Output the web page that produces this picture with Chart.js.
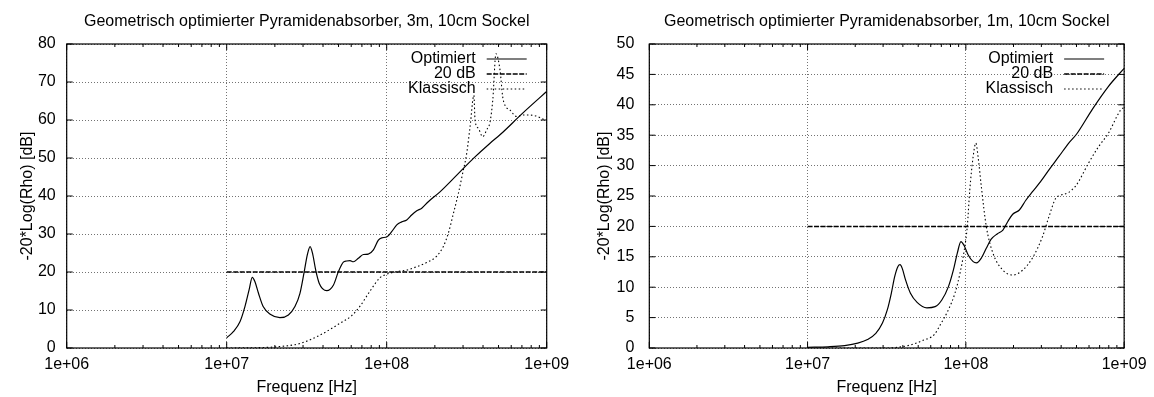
<!DOCTYPE html>
<html><head><meta charset="utf-8">
<script src="https://cdn.jsdelivr.net/npm/chart.js@4"></script>
<style>
html,body{margin:0;padding:0;background:#fff;}
#wrap{position:relative;width:1154px;height:397px;background:#fff;}
.c{position:absolute;top:0;width:577px;height:397px;}
</style></head><body>
<div id="wrap">
<div class="c" style="left:0"><canvas id="c1" width="577" height="397"></canvas></div>
<div class="c" style="left:577px"><canvas id="c2" width="577" height="397"></canvas></div>
</div>
<script>
// ---- tick labels / texts ----
const xTickValues = [1e6, 1e7, 1e8, 1e9];
const xTickLabels = ['1e+06', '1e+07', '1e+08', '1e+09'];
const yTicksLeft  = [0, 10, 20, 30, 40, 50, 60, 70, 80];
const yTicksRight = [0, 5, 10, 15, 20, 25, 30, 35, 40, 45, 50];
const seriesLabels = ['Optimiert', '20 dB', 'Klassisch'];
const titleLeft  = 'Geometrisch optimierter Pyramidenabsorber, 3m, 10cm Sockel';
const titleRight = 'Geometrisch optimierter Pyramidenabsorber, 1m, 10cm Sockel';
const xTitle = 'Frequenz [Hz]';
const yTitle = '-20*Log(Rho) [dB]';

// ---- left chart (3m) ----
const leftOptFreq = [1.0e7, 1.10e7, 1.21e7, 1.30e7, 1.38e7, 1.445e7, 1.50e7, 1.58e7, 1.69e7, 1.87e7,
  2.15e7, 2.43e7, 2.67e7, 2.87e7, 3.04e7, 3.19e7, 3.32e7, 3.44e7, 3.60e7, 3.79e7, 4.22e7, 4.65e7,
  4.99e7, 5.36e7, 5.62e7, 5.90e7, 6.19e7, 6.65e7, 7.15e7, 7.67e7, 8.26e7, 8.87e7, 9.31e7, 1.0e8,
  1.074e8, 1.156e8, 1.242e8, 1.334e8, 1.432e8, 1.542e8, 1.656e8, 1.820e8, 2.153e8, 2.742e8,
  3.483e8, 4.426e8, 5.105e8, 7.08e8, 1.0e9];
const leftOptVal = [2.7, 4.3, 6.9, 10.9, 15.3, 18.6, 17.5, 14.4, 10.9, 8.9,
  8.0, 8.7, 10.9, 14.4, 19.7, 24.5, 26.7, 24.9, 20.5, 17.0, 15.1, 16.6,
  20.1, 22.6, 22.9, 23.0, 22.7, 23.6, 24.6, 24.7, 25.8, 28.4, 29.0, 29.2,
  30.6, 32.4, 33.2, 33.7, 35.0, 36.1, 36.8, 38.5, 41.1, 45.5,
  49.9, 53.9, 56.1, 61.8, 67.5];
const leftRefFreq = [1e7, 1e9];
const leftRefVal  = [20, 20];
const leftKlasFreq = [1.0e7, 1.585e7, 2.04e7, 2.87e7, 3.83e7, 5.1e7, 6.04e7, 6.81e7, 7.87e7, 9.08e7,
  1.0e8, 1.156e8, 1.334e8, 1.542e8, 1.778e8, 2.056e8, 2.259e8, 2.427e8, 2.612e8, 2.805e8, 2.985e8,
  3.162e8, 3.319e8, 3.508e8, 3.565e8, 3.741e8, 3.981e8, 4.217e8, 4.426e8, 4.603e8, 4.819e8,
  5.105e8, 5.309e8, 5.483e8, 5.902e8, 6.501e8, 7.145e8, 7.870e8, 8.670e8, 9.528e8, 1.0e9];
const leftKlasVal = [0.0, 0.1, 0.3, 1.2, 3.4, 6.5, 8.5, 11.0, 15.0, 18.5,
  19.4, 20.1, 20.5, 21.4, 22.5, 24.2, 26.7, 30.2, 35.4, 40.7, 46.0,
  51.2, 58.2, 66.5, 60.0, 57.8, 55.6, 57.4, 59.5, 65.3, 77.4,
  73.2, 66.1, 63.9, 62.6, 60.9, 61.3, 61.3, 61.0, 60.2, 60.0];

// ---- right chart (1m) ----
const rightOptFreq = [1.0e7, 1.346e7, 1.714e7, 2.075e7, 2.393e7, 2.698e7, 2.972e7, 3.192e7, 3.381e7,
  3.548e7, 3.724e7, 3.837e7, 3.963e7, 4.159e7, 4.467e7, 4.920e7, 5.675e7, 6.397e7, 7.047e7, 7.762e7,
  8.337e7, 8.831e7, 9.311e7, 9.727e7, 1.035e8, 1.112e8, 1.167e8, 1.253e8, 1.346e8, 1.445e8, 1.585e8,
  1.714e8, 1.841e8, 1.977e8, 2.178e8, 2.393e8, 2.636e8, 2.972e8, 3.350e8, 3.873e8, 4.467e8, 5.012e8,
  6.310e8, 7.943e8, 1.0e9];
const rightOptVal = [0.1, 0.2, 0.4, 0.8, 1.4, 2.4, 4.1, 6.3, 9.0,
  11.7, 13.4, 13.7, 13.1, 11.2, 9.0, 7.5, 6.6, 6.8, 7.9, 10.1,
  12.8, 15.6, 17.5, 16.9, 15.3, 14.2, 14.0, 14.8, 16.4, 17.9, 18.8,
  19.4, 20.8, 22.0, 22.7, 24.3, 25.7, 27.4, 29.3, 31.5, 33.7, 35.2,
  39.3, 43.0, 46.0];
const rightRefFreq = [1e7, 1e9];
const rightRefVal  = [20, 20];
const rightKlasFreq = [1.0e7, 3.162e7, 4.467e7, 5.420e7, 6.31e7, 6.887e7, 7.762e7, 8.531e7, 9.183e7,
  9.772e7, 1.021e8, 1.059e8, 1.112e8, 1.156e8, 1.194e8, 1.253e8, 1.346e8, 1.483e8, 1.714e8, 1.977e8,
  2.286e8, 2.636e8, 3.048e8, 3.350e8, 3.690e8, 3.963e8, 4.467e8, 4.920e8, 5.164e8, 5.957e8, 6.887e8,
  7.943e8, 9.484e8, 1.0e9];
const rightKlasVal = [0.0, 0.0, 0.5, 1.3, 2.2, 3.8, 6.3, 9.0, 12.3,
  16.1, 20.0, 26.0, 31.5, 33.7, 31.5, 26.5, 20.0, 15.6, 12.8, 12.0,
  12.8, 14.8, 18.3, 21.6, 24.6, 25.1, 25.6, 26.6, 27.4, 30.4, 33.1,
  35.3, 39.1, 39.6];

// ---- rendering ----
const FONT = '"Liberation Sans", Arial, Helvetica, sans-serif';
const FS = 16;
Chart.defaults.font.family = FONT;
Chart.defaults.color = '#000';

function pts(xs, ys) { return xs.map((x, i) => ({x: x, y: ys[i]})); }

const framePlugin = {
  id: 'gnuframe',
  beforeDatasetsDraw(chart) {
    const {ctx, chartArea: a, scales: {x, y}} = chart;
    ctx.save();
    ctx.strokeStyle = '#000';
    ctx.lineWidth = 1;
    ctx.setLineDash([]);
    ctx.beginPath();
    for (let d = 0; d < xTickValues.length; d++) {
      const base = xTickValues[d];
      const px = x.getPixelForValue(base);
      ctx.moveTo(px, a.bottom); ctx.lineTo(px, a.bottom - 6);
      ctx.moveTo(px, a.top); ctx.lineTo(px, a.top + 6);
      if (d < xTickValues.length - 1) {
        for (let m = 2; m <= 9; m++) {
          const pm = x.getPixelForValue(base * m);
          ctx.moveTo(pm, a.bottom); ctx.lineTo(pm, a.bottom - 3);
          ctx.moveTo(pm, a.top); ctx.lineTo(pm, a.top + 3);
        }
      }
    }
    y.ticks.forEach(t => {
      const py = y.getPixelForValue(t.value);
      ctx.moveTo(a.left, py); ctx.lineTo(a.left + 6, py);
      ctx.moveTo(a.right, py); ctx.lineTo(a.right - 6, py);
    });
    ctx.stroke();
    ctx.lineWidth = 1.2;
    ctx.strokeRect(a.left, a.top, a.right - a.left, a.bottom - a.top);
    ctx.restore();
  }
};

const legendPlugin = {
  id: 'gnulegend',
  afterDatasetsDraw(chart) {
    const {ctx, chartArea: a} = chart;
    ctx.save();
    ctx.font = FS + 'px ' + FONT;
    ctx.textAlign = 'right';
    ctx.textBaseline = 'middle';
    chart.data.datasets.forEach((ds, i) => {
      const yy = a.top + 15 + i * 15;
      ctx.fillStyle = '#000';
      ctx.fillText(ds.label, a.right - 71, yy);
      ctx.strokeStyle = ds.borderColor;
      ctx.lineWidth = ds.borderWidth;
      ctx.setLineDash(ds.borderDash || []);
      ctx.beginPath();
      ctx.moveTo(a.right - 60, yy);
      ctx.lineTo(a.right - 20, yy);
      ctx.stroke();
    });
    ctx.restore();
  }
};

function makeChart(id, c) {
  return new Chart(document.getElementById(id), {
    type: 'line',
    data: { datasets: [
      {label: seriesLabels[0], data: pts(c.optF, c.optV), borderColor: '#000', borderWidth: 1.2,
        pointRadius: 0, cubicInterpolationMode: 'monotone', fill: false},
      {label: seriesLabels[1], data: pts(c.refF, c.refV), borderColor: '#000', borderWidth: 1.5,
        borderDash: [5, 1.5], pointRadius: 0, fill: false},
      {label: seriesLabels[2], data: pts(c.klF, c.klV), borderColor: '#000', borderWidth: 1.1,
        borderDash: [1.5, 2.5], pointRadius: 0, cubicInterpolationMode: 'monotone', fill: false}
    ]},
    options: {
      responsive: false, animation: false, parsing: true,
      layout: {padding: {left: 0, right: c.padRight, top: 0, bottom: 0}},
      plugins: {
        legend: {display: false}, tooltip: {enabled: false},
        title: {display: true, text: c.title, fullSize: false, color: '#000',
          font: {size: FS, weight: 'normal', family: FONT}, padding: {top: 12.1, bottom: 12.7}}
      },
      scales: {
        x: {
          type: 'logarithmic', min: 1e6, max: 1e9,
          afterBuildTicks: s => { s.ticks = xTickValues.map(v => ({value: v})); },
          afterFit: s => { s.height = 49; },
          ticks: {autoSkip: false, maxRotation: 0, padding: 7.4, color: '#000',
            font: {size: FS, family: FONT}, callback: (v, i) => xTickLabels[i]},
          grid: {drawTicks: false, color: 'rgba(0,0,0,0.55)', lineWidth: 1},
          border: {display: false, dash: [1, 2]},
          title: {display: true, text: xTitle, color: '#000', font: {size: FS, family: FONT},
            padding: {top: 0, bottom: 0}}
        },
        y: {
          type: 'linear', min: c.yTicks[0], max: c.yTicks[c.yTicks.length - 1],
          afterBuildTicks: s => { s.ticks = c.yTicks.map(v => ({value: v})); },
          afterFit: s => { s.width = c.yWidth; },
          ticks: {autoSkip: false, padding: c.yPad, color: '#000', font: {size: FS, family: FONT}},
          grid: {drawTicks: false, color: 'rgba(0,0,0,0.55)', lineWidth: 1},
          border: {display: false, dash: [1, 2]},
          title: {display: true, text: yTitle, color: '#000', font: {size: FS, family: FONT},
            padding: {top: 18.1, bottom: 0}}
        }
      }
    },
    plugins: [framePlugin, legendPlugin]
  });
}

makeChart('c1', {optF: leftOptFreq, optV: leftOptVal, refF: leftRefFreq, refV: leftRefVal,
  klF: leftKlasFreq, klV: leftKlasVal, yTicks: yTicksLeft, title: titleLeft,
  padRight: 30.3, yWidth: 66.7, yPad: 11});
makeChart('c2', {optF: rightOptFreq, optV: rightOptVal, refF: rightRefFreq, refV: rightRefVal,
  klF: rightKlasFreq, klV: rightKlasVal, yTicks: yTicksRight, title: titleRight,
  padRight: 24.7, yWidth: 72.3, yPad: 15});
</script>
</body></html>
